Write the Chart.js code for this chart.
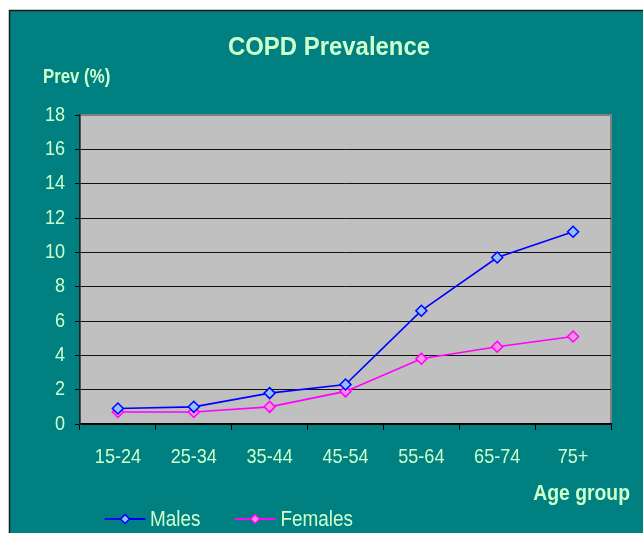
<!DOCTYPE html>
<html>
<head>
<meta charset="utf-8">
<script src="https://cdn.jsdelivr.net/npm/chart.js@4"></script>
<style>
html,body{margin:0;padding:0;background:#fff;}
#wrap{width:643px;height:533px;position:relative;}
canvas{display:block;}
</style>
</head>
<body>
<div id="wrap"><canvas id="c" width="643" height="533"></canvas></div>
<script>
const categories = ['15-24','25-34','35-44','45-54','55-64','65-74','75+'];
const males   = [0.9, 1.0, 1.8, 2.3, 6.6, 9.7, 11.2];
const females = [0.7, 0.7, 1.0, 1.9, 3.8, 4.5, 5.1];
const yTicks  = [0, 2, 4, 6, 8, 10, 12, 14, 16, 18];
const seriesNames = ['Males', 'Females'];
const titleText = 'COPD Prevalence';
const yTitle = 'Prev (%)';
const xTitle = 'Age group';

const TEAL = '#008080';
const TXT = '#ccffcc';
const FONT = "'Liberation Sans', Arial, sans-serif";

// slightly condensed text rendering (the reference glyphs are horizontally squeezed)
const canvas = document.getElementById('c');
const c2d = canvas.getContext('2d');
const origFill = CanvasRenderingContext2D.prototype.fillText;
c2d.textScaleX = 0.86;
c2d.fillText = function (t, x, y, mw) {
  const s = this.textScaleX || 1;
  this.save();
  this.translate(x, y);
  this.scale(s, 1);
  if (mw !== undefined) origFill.call(this, t, 0, 0, mw / s);
  else origFill.call(this, t, 0, 0);
  this.restore();
};

const frame = {
  id: 'frame',
  beforeDraw(chart) {
    const ctx = chart.ctx, a = chart.chartArea;
    ctx.save();
    ctx.fillStyle = '#fff';
    ctx.fillRect(0, 0, chart.width, chart.height);
    ctx.fillStyle = TEAL;
    ctx.fillRect(9, 10, chart.width - 9, chart.height - 10);
    ctx.strokeStyle = '#1a1a1a';
    ctx.lineWidth = 1.5;
    ctx.beginPath();
    ctx.moveTo(9.5, chart.height);
    ctx.lineTo(9.5, 10.5);
    ctx.lineTo(chart.width, 10.5);
    ctx.stroke();
    ctx.fillStyle = '#c0c0c0';
    ctx.fillRect(a.left, a.top, a.right - a.left, a.bottom - a.top);
    ctx.strokeStyle = '#808080';
    ctx.lineWidth = 2;
    ctx.strokeRect(a.left, a.top, a.right - a.left, a.bottom - a.top);
    ctx.restore();
  },
  afterDraw(chart) {
    const ctx = chart.ctx;
    ctx.save();
    ctx.fillStyle = TXT;
    ctx.textBaseline = 'alphabetic';
    ctx.textAlign = 'center';
    ctx.textScaleX = 0.92;
    ctx.font = 'bold 26px ' + FONT;
    ctx.fillText(titleText, 329, 54.5);
    ctx.textAlign = 'left';
    ctx.textScaleX = 0.84;
    ctx.font = 'bold 20px ' + FONT;
    ctx.fillText(yTitle, 43, 83);
    ctx.textAlign = 'right';
    ctx.textScaleX = 0.88;
    ctx.font = 'bold 22px ' + FONT;
    ctx.fillText(xTitle, 630, 500);
    // legend
    const items = [
      {x0: 104.6, x1: 145.5, tx: 150},
      {x0: 234.7, x1: 275.6, tx: 280.4}
    ];
    const ly = 519;
    ctx.textScaleX = 0.86;
    chart.data.datasets.forEach((ds, i) => {
      const it = items[i];
      ctx.strokeStyle = ds.borderColor;
      ctx.lineWidth = 2;
      ctx.beginPath();
      ctx.moveTo(it.x0, ly);
      ctx.lineTo(it.x1, ly);
      ctx.stroke();
      const cx = (it.x0 + it.x1) / 2, r = 4.5;
      ctx.beginPath();
      ctx.moveTo(cx, ly - r); ctx.lineTo(cx + r, ly); ctx.lineTo(cx, ly + r); ctx.lineTo(cx - r, ly); ctx.closePath();
      ctx.fillStyle = ds.pointBackgroundColor;
      ctx.fill();
      ctx.lineWidth = 1.5;
      ctx.strokeStyle = ds.pointBorderColor;
      ctx.stroke();
      ctx.fillStyle = TXT;
      ctx.textAlign = 'left';
      ctx.textBaseline = 'alphabetic';
      ctx.font = '22px ' + FONT;
      ctx.fillText(ds.label, it.tx, 525.5);
    });
    ctx.textScaleX = 0.86;
    ctx.restore();
    ctx.textScaleX = 0.86;
  }
};

new Chart(canvas, {
  type: 'line',
  data: {
    labels: categories,
    datasets: [
      {
        label: seriesNames[0], data: males,
        borderColor: '#0000ff', borderWidth: 1.6,
        pointStyle: 'rectRot', pointRadius: 5.5,
        pointBackgroundColor: '#8fc0ff', pointBorderColor: '#0000ff', pointBorderWidth: 1.5,
        tension: 0
      },
      {
        label: seriesNames[1], data: females,
        borderColor: '#ff00ff', borderWidth: 1.6,
        pointStyle: 'rectRot', pointRadius: 5.5,
        pointBackgroundColor: '#ff8ce6', pointBorderColor: '#ff00ff', pointBorderWidth: 1.5,
        tension: 0
      }
    ]
  },
  options: {
    responsive: false,
    animation: false,
    devicePixelRatio: 1,
    layout: { padding: { left: 0, top: 115, right: 32, bottom: 0 } },
    plugins: { legend: { display: false }, title: { display: false }, tooltip: { enabled: false } },
    scales: {
      x: {
        type: 'category',
        offset: true,
        grid: { display: true, drawOnChartArea: false, drawTicks: true, tickLength: 6, offset: true, color: '#000', tickColor: '#000' },
        border: { display: true, color: '#000', width: 1.5 },
        ticks: { color: TXT, font: { family: FONT, size: 21 }, padding: 15, maxRotation: 0, autoSkip: false },
        afterFit(s) { s.height = 109; }
      },
      y: {
        min: 0, max: 18,
        afterBuildTicks(s) { s.ticks = yTicks.map(v => ({ value: v })); },
        grid: {
          color: ctx => (ctx.tick && ctx.tick.value === 18) ? '#808080' : '#111',
          tickColor: '#000', tickLength: 5, lineWidth: 1
        },
        border: { display: true, color: '#222', width: 1.5 },
        ticks: { color: TXT, font: { family: FONT, size: 21 }, padding: 10, stepSize: 2 },
        afterFit(s) { s.width = 80; }
      }
    }
  },
  plugins: [frame]
});
</script>
</body>
</html>
